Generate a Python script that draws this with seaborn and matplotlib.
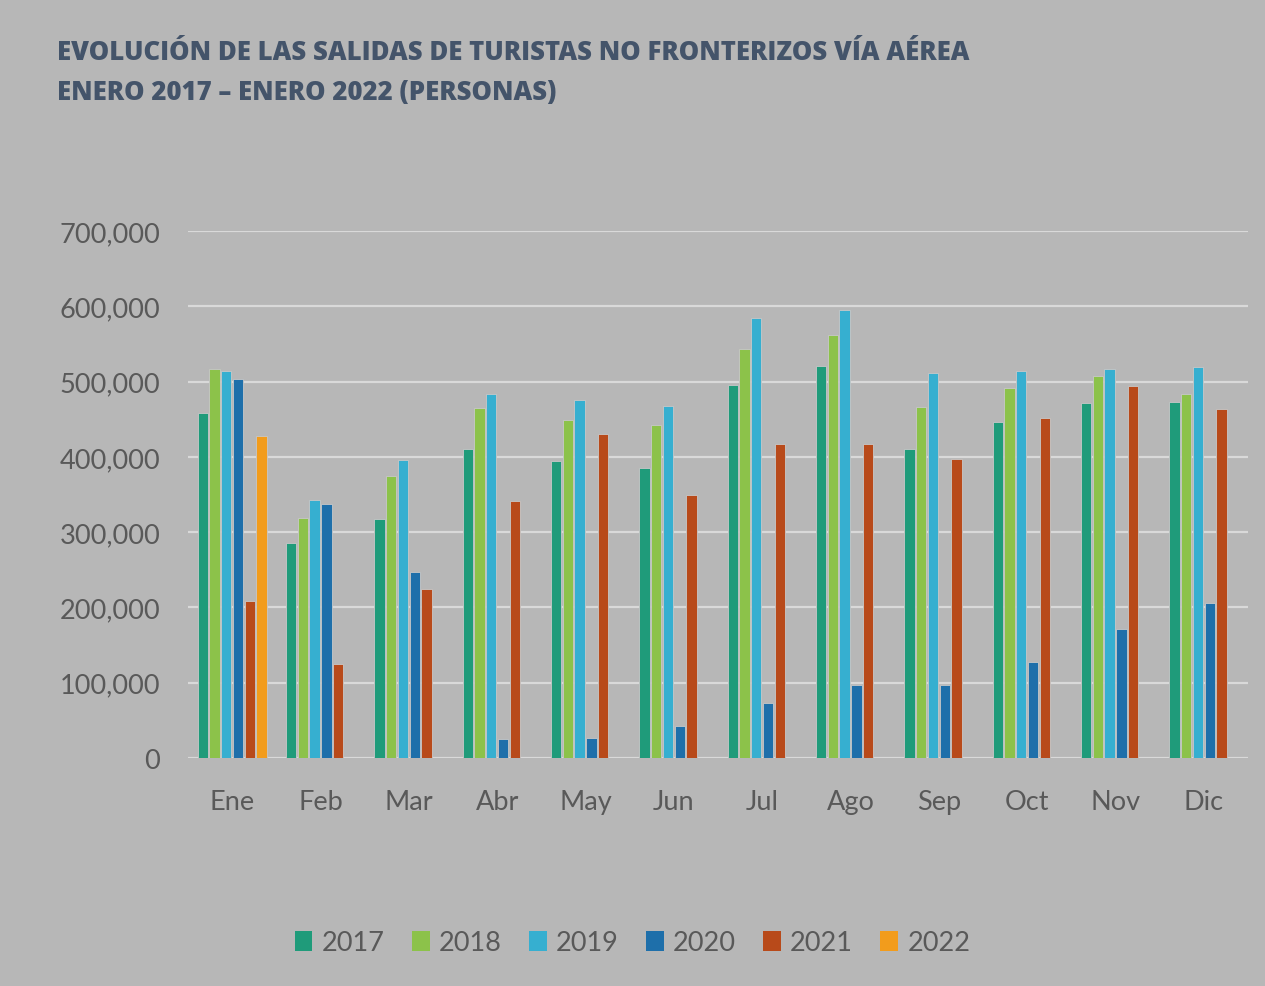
import matplotlib
matplotlib.use("Agg")
import matplotlib.pyplot as plt
import seaborn as sns
import pandas as pd

# Monthly departures of non-border tourists by air (persons)
months = ["Ene", "Feb", "Mar", "Abr", "May", "Jun", "Jul", "Ago", "Sep", "Oct", "Nov", "Dic"]
years = ["2017", "2018", "2019", "2020", "2021", "2022"]

y2017 = [458600, 285000, 317000, 411000, 394000, 385000, 495000, 521000, 411000, 447000, 472000, 473000]
y2018 = [517000, 319000, 375000, 465000, 449000, 443000, 543000, 562000, 466000, 492000, 508000, 484000]
y2019 = [514000, 343000, 396000, 483000, 475000, 468000, 584000, 595000, 511000, 514000, 517000, 519000]
y2020 = [503800, 338000, 247000, 25000, 26000, 43000, 73000, 97000, 97000, 128000, 171000, 206000]
y2021 = [208000, 125000, 225000, 342000, 431000, 350000, 417000, 417000, 397000, 452000, 494000, 463000]
y2022 = [428000]

yticks = [0, 100000, 200000, 300000, 400000, 500000, 600000, 700000]

colors = ["#1f9b7a", "#8cc24a", "#36afd0", "#1e6faa", "#b84a1a", "#f29c1c"]
bg = "#b7b7b7"

rows = []
for yr, vals in zip(years, [y2017, y2018, y2019, y2020, y2021, y2022]):
    for m, v in zip(months, vals):
        rows.append({"mes": m, "anio": yr, "valor": v})
df = pd.DataFrame(rows)

sns.set_theme(style="white")
plt.rcParams["font.family"] = ["Lato", "DejaVu Sans"]

fig = plt.figure(figsize=(12.65, 9.87), dpi=100, facecolor=bg)
ax = fig.add_axes([0.1486, 0.2310, 0.8380, 0.5339])
ax.set_facecolor(bg)

sns.barplot(data=df, x="mes", y="valor", hue="anio", order=months, hue_order=years,
            palette=colors, width=0.8, gap=0.12, edgecolor="#c8c8c8", linewidth=0.6,
            saturation=1, ax=ax, zorder=3)

ax.set_ylim(0, 700000)
ax.set_xlim(-0.5, 11.5)
ax.set_yticks(yticks)
ax.set_yticklabels([f"{v:,}" for v in yticks])
ax.yaxis.grid(True, color="#d9d9d9", linewidth=1.6, zorder=0)
ax.xaxis.grid(False)
for s in ax.spines.values():
    s.set_visible(False)
ax.tick_params(axis="both", length=0, labelsize=19.5, labelcolor="#595959")
ax.tick_params(axis="x", pad=22)
ax.tick_params(axis="y", pad=20)
ax.set_xlabel("")
ax.set_ylabel("")

leg = ax.legend(loc="center", ncol=6, frameon=False, fontsize=19.5,
                handlelength=0.65, handleheight=0.75, handletextpad=0.35,
                columnspacing=1.0, labelcolor="#595959")
leg.set_bbox_to_anchor((0.5, 1 - 944 / 987), transform=fig.transFigure)
for h in leg.legend_handles:
    h.set_edgecolor("none")

title_font = ["Open Sans", "DejaVu Sans"]
fig.text(57 / 1265, 1 - 53 / 987, "EVOLUCIÓN DE LAS SALIDAS DE TURISTAS NO FRONTERIZOS VÍA AÉREA",
         fontsize=18.5, fontweight=800, color="#44546a", va="center", ha="left",
         family=title_font)
fig.text(57 / 1265, 1 - 93 / 987, "ENERO 2017 – ENERO 2022 (PERSONAS)",
         fontsize=18.5, fontweight=800, color="#44546a", va="center", ha="left",
         family=title_font)

fig.savefig("out.png", dpi=100, facecolor=bg)
